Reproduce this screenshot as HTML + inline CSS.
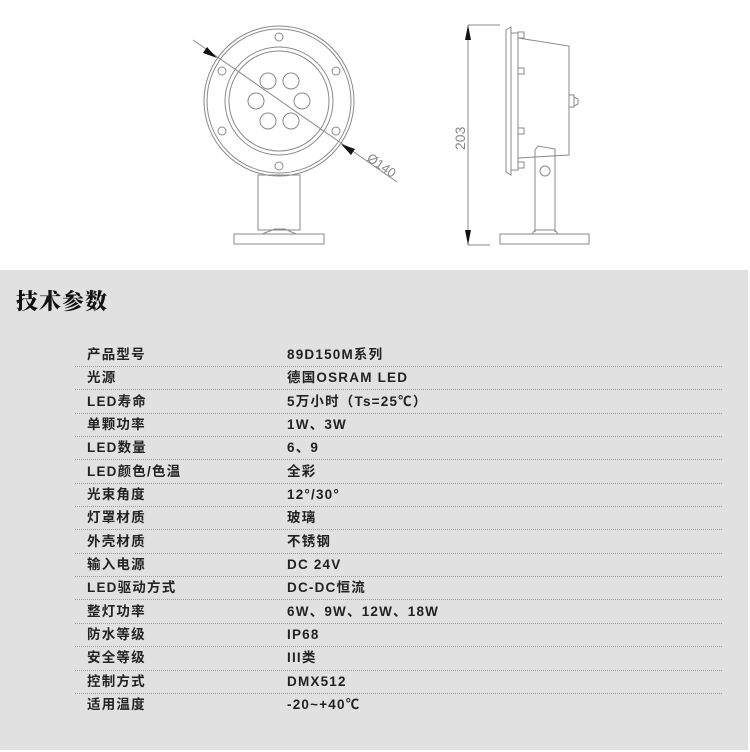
<!DOCTYPE html>
<html><head><meta charset="utf-8"><style>
body{margin:0;width:750px;height:752px;background:#fff;position:relative;overflow:hidden;font-family:"Liberation Sans","Noto Sans CJK SC",sans-serif}
#gray{position:absolute;left:0;top:270px;width:748px;height:480px;background:#e1e1e1}
#title{position:absolute;left:16px;top:286px;font-size:22px;font-weight:900;font-family:"Noto Serif CJK SC",serif;color:#111;letter-spacing:1px;line-height:30px}
.row{position:absolute;left:75px;width:647px;height:23px;font-size:13.5px;font-weight:bold;color:#222;letter-spacing:1.2px;line-height:16px}
.row .l{position:absolute;left:12px;top:3px;white-space:nowrap}
.row .v{position:absolute;left:212px;top:3px;white-space:nowrap}
.ln{position:absolute;left:75px;width:647px;border-top:1.5px dotted #999}
svg{position:absolute;left:0;top:0}
</style></head><body>
<div id="gray"></div>
<svg width="750" height="270" viewBox="0 0 750 270">
<g fill="none" stroke="#8a8a8a" stroke-width="1">
<circle cx="279" cy="101" r="75"/><circle cx="279" cy="101" r="72"/>
<circle cx="279" cy="101" r="54"/><circle cx="279" cy="101" r="50"/>
<circle cx="279" cy="37" r="4"/><circle cx="279" cy="166" r="4"/>
<circle cx="222" cy="71" r="4"/><circle cx="222" cy="131" r="4"/>
<circle cx="336" cy="71" r="4"/><circle cx="336" cy="131" r="4"/>
<circle cx="268" cy="81" r="8"/><circle cx="291" cy="81" r="8"/>
<circle cx="256" cy="101" r="8"/><circle cx="302" cy="101" r="8"/>
<circle cx="268" cy="121" r="8"/><circle cx="291" cy="121" r="8"/>
<rect x="258" y="175" width="42" height="55"/>
<rect x="234" y="234" width="90" height="10"/>
<path d="M262 234 L275 229 L285 229 L296 234"/>
<line x1="193" y1="40" x2="397" y2="182"/>
<line x1="468" y1="25" x2="468" y2="245"/>
<line x1="468" y1="25" x2="500" y2="25"/>
<line x1="468" y1="245" x2="490" y2="245"/>
<path d="M506 30 L511 27 L511 175 L506 172 Z"/>
<path d="M511 33 L518 33 L518 170 L511 170"/>
<path d="M518 38 L569 46 L569 155 L518 158"/>
<rect x="569" y="95" width="5" height="12"/>
<path d="M574 97 L578 99 L578 104 L574 106"/>
<rect x="518" y="32" width="6" height="6"/><rect x="518" y="68" width="6" height="6"/>
<rect x="518" y="128" width="6" height="6"/><rect x="518" y="162" width="6" height="6"/>
<path d="M535 232 L535 150 L538 146 L555 149 L555 232"/>
<circle cx="545" cy="171" r="5"/>
<rect x="500" y="234" width="89" height="10"/>
<path d="M532 234 L535 230 L555 230 L558 234"/>
</g>
<g fill="#111">
<polygon points="217,58 203,53 207,47"/>
<polygon points="341,144 355,149 351,155"/>
<polygon points="468,25 465,40 471,40"/>
<polygon points="468,245 465,230 471,230"/>
</g>
<text x="0" y="0" transform="translate(366,160) rotate(34.8)" font-family="Liberation Sans" font-size="13" fill="#888">Ø140</text>
<text x="0" y="0" transform="translate(465,150) rotate(-90)" font-family="Liberation Sans" font-size="14" fill="#888">203</text>
</svg>
<div id="title">技术参数</div>
<div class="row" style="top:344px"><span class="l">产品型号</span><span class="v">89D150M系列</span></div>
<div class="row" style="top:367px"><span class="l">光源</span><span class="v">德国OSRAM LED</span></div>
<div class="row" style="top:391px"><span class="l">LED寿命</span><span class="v">5万小时（Ts=25℃）</span></div>
<div class="row" style="top:414px"><span class="l">单颗功率</span><span class="v">1W、3W</span></div>
<div class="row" style="top:437px"><span class="l">LED数量</span><span class="v">6、9</span></div>
<div class="row" style="top:461px"><span class="l">LED颜色/色温</span><span class="v">全彩</span></div>
<div class="row" style="top:484px"><span class="l">光束角度</span><span class="v">12°/30°</span></div>
<div class="row" style="top:507px"><span class="l">灯罩材质</span><span class="v">玻璃</span></div>
<div class="row" style="top:531px"><span class="l">外壳材质</span><span class="v">不锈钢</span></div>
<div class="row" style="top:554px"><span class="l">输入电源</span><span class="v">DC 24V</span></div>
<div class="row" style="top:577px"><span class="l">LED驱动方式</span><span class="v">DC-DC恒流</span></div>
<div class="row" style="top:601px"><span class="l">整灯功率</span><span class="v">6W、9W、12W、18W</span></div>
<div class="row" style="top:624px"><span class="l">防水等级</span><span class="v">IP68</span></div>
<div class="row" style="top:647px"><span class="l">安全等级</span><span class="v">III类</span></div>
<div class="row" style="top:671px"><span class="l">控制方式</span><span class="v">DMX512</span></div>
<div class="row" style="top:694px"><span class="l">适用温度</span><span class="v">-20~+40℃</span></div>
<div class="ln" style="top:366px"></div><div class="ln" style="top:389px"></div>
<div class="ln" style="top:413px"></div><div class="ln" style="top:436px"></div>
<div class="ln" style="top:459px"></div><div class="ln" style="top:483px"></div>
<div class="ln" style="top:506px"></div><div class="ln" style="top:529px"></div>
<div class="ln" style="top:553px"></div><div class="ln" style="top:576px"></div>
<div class="ln" style="top:599px"></div><div class="ln" style="top:623px"></div>
<div class="ln" style="top:646px"></div><div class="ln" style="top:670px"></div>
<div class="ln" style="top:693px"></div>
</body></html>
